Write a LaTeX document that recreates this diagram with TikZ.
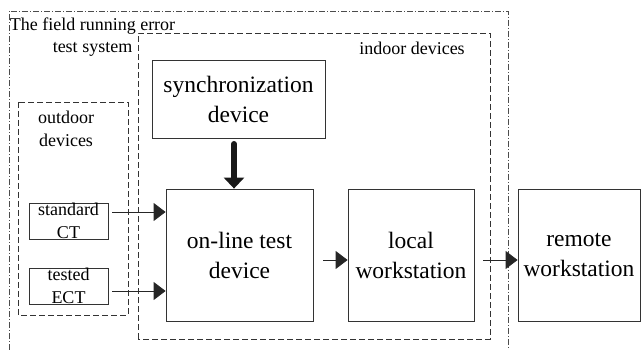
\documentclass[tikz,border=0pt]{standalone}
\usepackage{fontspec}
\setmainfont{Liberation Serif}
\newfontfamily\labelfont{Liberation Serif}
\usetikzlibrary{positioning}
\usetikzlibrary{arrows.meta}
\tikzset{
	every node/.style = {font=\labelfont\fontsize{18}{22.5}\selectfont, inner sep=0pt}
}
\tikzset{
	block/.style = {draw=black!80, line width=0.8pt, align=center,
		font=\labelfont\fontsize{23.5}{30}\selectfont},
	smallblock/.style = {draw=black!80, line width=0.8pt, align=center,
		minimum width=79pt, minimum height=36pt},
	flow/.style = {draw=black!85, line width=0.8pt, -{Triangle[length=12pt,width=18pt]}},
	bigflow/.style = {draw=black!90, line width=6pt, line cap=round,
		-{Triangle[length=11pt,width=20pt]}},
	areabox/.style = {draw=black!80, line width=0.7pt, dash pattern=on 6pt off 3pt},
	systembox/.style = {draw=black!70, line width=0.6pt,
		dash pattern=on 6pt off 2pt on 1pt off 2pt}
}

\begin{document}
\begin{tikzpicture}[x=1pt, y=-1pt]
        \useasboundingbox (0,0) rectangle (641,350);

        % The field running error test system (open at the bottom)
        \draw[systembox] (9,350) -- (9,11) -- (508,11) -- (508,350);
        \node[align=center] (systemlabel) at (92.5,37) {The field running error\\test system};

        % indoor devices
        \draw[areabox] (138,339) rectangle (490,33);
        \node (indoorlabel) at (412,48) {indoor devices};

        % outdoor devices
        \draw[areabox] (18,102) rectangle (128,315);
        \node[align=center] (outdoorlabel) at (66,129) {outdoor\\devices};

        % Blocks
        \node[block, minimum width=173pt, minimum height=78pt] (sync) at (238.5,99) {synchronization\\device};
        \node[block, minimum width=147pt, minimum height=132pt] (online) at (239.5,255) {on-line test\\device};
        \node[block, minimum width=126pt, minimum height=132pt] (local) at (411,255) {local\\workstation};
        \node[block, minimum width=122pt, minimum height=132pt] (remote) at (579,255) {remote\\workstation};

        \node[smallblock] (stdct) at (68.5,221) {standard\\CT};
        \node[smallblock] (ect) at (68.5,286) {tested\\ECT};

        % Signal flow
        \coordinate (stdout) at (112,212);
        \coordinate (ectout) at (112,291);
        \coordinate (onlineout) at (323,260);
        \coordinate (localout) at (483,260);
        \coordinate (syncout) at (234,144);

        \draw[bigflow] (syncout) -- (syncout |- online.north);
        \draw[flow] (stdout) -- (stdout -| online.west);
        \draw[flow] (ectout) -- (ectout -| online.west);
        \draw[flow] (onlineout) -- (onlineout -| local.west);
        \draw[flow] (localout) -- (localout -| remote.west);
\end{tikzpicture}
\end{document}
